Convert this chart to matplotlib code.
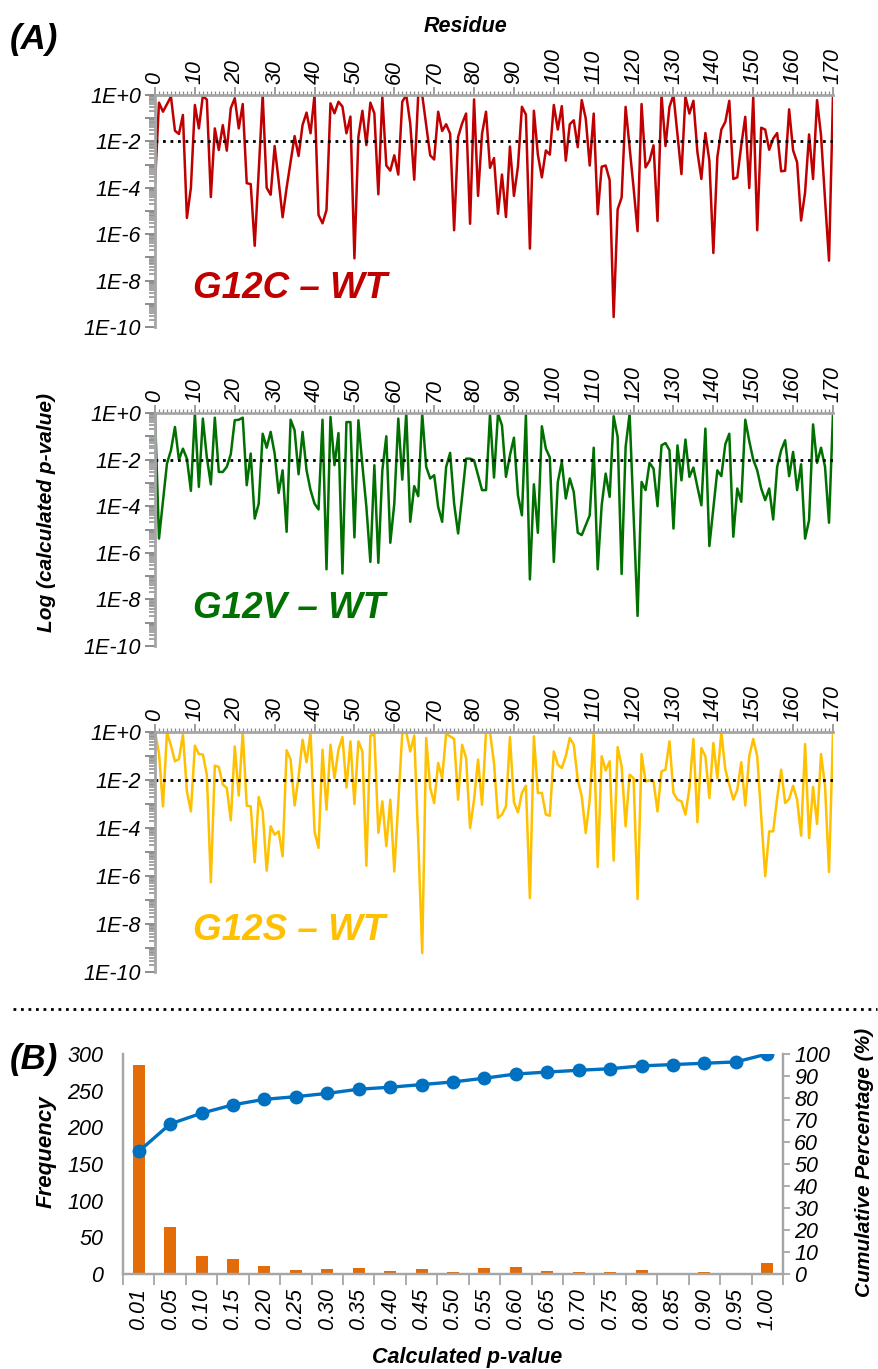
import numpy as np
import matplotlib.pyplot as plt
from matplotlib.ticker import FixedLocator, LogLocator, MultipleLocator, NullFormatter, FuncFormatter
from matplotlib.lines import Line2D

plt.rcParams['font.family'] = ['Liberation Sans', 'DejaVu Sans']
plt.rcParams['font.style'] = 'italic'

# ---- data: log10(p-value) per residue 0..170
residue = np.arange(0, 171)

g12c_log = [
    -3.8, -0.33, -0.72, -0.4, -0.07, -1.54, -1.68, -0.86, -5.3, -4.0,
    -0.43, -1.44, -0.04, -0.2, -4.4, -1.44, -2.37, -1.3, -2.4, -0.57,
    -0.14, -1.44, -0.39, -3.8, -3.84, -6.5, -3.3, 0.0, -4.0, -4.3,
    -2.2, -3.7, -5.27, -4.0, -2.9, -1.77, -2.63, -1.29, -0.76, -1.65,
    0.0, -5.17, -5.53, -4.96, -0.36, -0.79, -0.29, -0.5, -1.65, -0.93,
    -7.04, -1.8, -0.68, -2.16, -0.33, -0.79, -4.28, -0.07, -3.04, -3.26,
    -2.6, -3.43, -0.29, 0.0, -1.23, -3.65, 0.0, 0.0, -1.3, -2.6,
    -2.78, -0.72, -1.55, -1.26, -1.67, -5.83, -1.81, -1.23, -0.8, -5.55,
    -0.19, -4.35, -1.67, -0.72, -3.14, -2.72, -5.12, -3.43, -5.26, -2.22,
    -4.35, -3.09, -0.51, -0.84, -6.62, -0.68, -2.57, -3.55, -2.39, -2.57,
    -0.43, -1.49, -0.48, -2.83, -1.26, -1.09, -2.25, -0.22, -1.01, -3.04,
    -0.8, -5.14, -3.09, -3.04, -3.67, -9.57, -4.93, -4.42, -0.51, -2.25,
    -4.0, -5.87, -0.39, -3.12, -2.83, -2.17, -5.43, 0.0, -2.2, -0.51,
    0.0, -1.7, -3.41, -0.07, -0.8, -0.25, -2.46, -3.62, -1.64, -2.83,
    -6.81, -2.68, -1.49, -1.16, -0.25, -3.62, -3.55, -2.17, -0.94, -4.01,
    -0.1, -5.83, -1.41, -1.49, -2.36, -1.88, -1.64, -3.29, -3.26, -0.62,
    -2.39, -2.9, -5.41, -4.2, -1.7, -3.62, -0.22, -1.74, -4.5, -7.14,
    0.0,
]

g12v_log = [
    -0.03, -5.39, -3.8, -2.17, -1.6, -0.6, -2.0, -1.53, -1.96, -3.34,
    -0.03, -3.17, -0.24, -1.91, -3.06, -0.2, -2.53, -2.53, -2.31, -1.77,
    -0.31, -0.29, -0.2, -3.1, -1.74, -4.53, -3.89, -0.89, -1.49, -0.81,
    -1.74, -3.43, -2.46, -5.1, -0.29, -0.74, -2.63, -0.81, -2.46, -3.31,
    -3.89, -4.14, -0.29, -6.71, -0.17, -2.24, -0.86, -6.89, -0.39, -0.39,
    -5.34, -0.31, -2.24, -4.03, -6.39, -2.24, -6.43, -2.46, -1.0, -5.57,
    -3.89, -0.24, -2.86, 0.0, -4.67, -3.14, -3.57, -0.03, -2.31, -2.81,
    -2.67, -4.03, -4.67, -2.31, -1.71, -3.89, -5.17, -3.6, -1.96, -1.96,
    -2.03, -2.67, -3.31, -3.31, -0.06, -2.77, -0.03, -0.53, -2.74, -1.81,
    -1.06, -3.53, -4.39, -0.1, -7.14, -3.06, -5.14, -0.57, -1.53, -1.91,
    -6.39, -2.96, -2.1, -3.67, -2.81, -3.39, -5.14, -5.24, -4.81, -4.39,
    -1.49, -6.71, -3.96, -2.6, -3.6, -0.14, -1.03, -6.91, -1.46, -0.03,
    -4.4, -8.71, -2.96, -3.31, -2.14, -2.39, -4.0, -1.39, -1.29, -1.6,
    -4.96, -1.39, -2.89, -1.14, -2.74, -2.34, -3.17, -3.96, -0.67, -5.71,
    -4.1, -2.46, -2.71, -1.34, -0.89, -5.31, -3.24, -3.81, -0.29, -1.2,
    -2.0, -2.46, -3.24, -3.74, -3.24, -4.57, -2.31, -1.6, -1.17, -2.71,
    -1.67, -3.31, -2.2, -5.39, -4.6, -0.49, -2.14, -1.49, -2.31, -4.71,
    -0.03,
]

g12s_log = [
    0.0, -0.88, -3.1, -0.01, -0.57, -1.22, -1.13, -0.11, -2.47, -3.31,
    -0.57, -0.92, -0.94, -1.78, -6.26, -1.4, -1.46, -2.19, -2.33, -3.68,
    -0.6, -2.65, -0.01, -3.07, -3.1, -5.43, -2.71, -3.31, -5.78, -3.93,
    -4.28, -4.14, -5.18, -0.76, -1.15, -3.06, -1.85, -0.32, -1.26, -0.01,
    -4.14, -4.83, -0.74, -3.24, -0.53, -1.92, -0.74, -0.21, -2.31, -0.39,
    -3.0, -0.39, -0.81, -5.57, -0.15, -0.11, -4.2, -2.89, -4.76, -2.82,
    -5.81, -2.9, -0.07, 0.0, -0.81, -0.15, -4.5, -9.21, -0.25, -2.33,
    -2.96, -1.29, -1.92, -0.07, -0.18, -0.29, -2.82, -0.53, -1.08, -4.0,
    -2.82, -1.15, -3.03, 0.0, 0.0, -1.29, -3.58, -3.44, -3.1, -0.21,
    -2.93, -3.35, -2.54, -2.24, -6.92, -0.18, -2.54, -2.54, -3.44, -3.49,
    -0.81, -1.36, -1.5, -1.01, -0.25, -0.53, -1.99, -2.68, -4.21, -2.82,
    -0.01, -5.62, -1.01, -1.6, -1.22, -5.36, -0.63, -1.43, -3.93, -1.78,
    -1.92, -6.96, -0.92, -2.06, -2.01, -2.06, -3.31, -1.64, -1.57, -0.39,
    -2.54, -2.82, -2.89, -3.44, -2.33, -0.29, -3.76, -0.67, -1.01, -2.75,
    -0.46, -1.92, -0.01, -1.57, -2.2, -2.82, -2.4, -1.26, -3.06, -1.01,
    -0.29, -1.01, -3.51, -6.01, -4.14, -4.14, -2.75, -1.57, -2.96, -2.79,
    -2.24, -2.82, -4.32, -0.5, -4.42, -2.29, -3.83, -0.92, -2.26, -5.83,
    -0.01,
]

# ---- data: panel B histogram
pval_bins = ['0.01', '0.05', '0.10', '0.15', '0.20', '0.25', '0.30', '0.35', '0.40',
             '0.45', '0.50', '0.55', '0.60', '0.65', '0.70', '0.75', '0.80', '0.85',
             '0.90', '0.95', '1.00']
frequency = [285, 64, 24, 20, 11, 5, 7, 8, 4, 7, 3, 8, 10, 4, 3, 3, 5, 2, 3, 1, 15]
cumulative_pct = [55.7, 68.2, 73.1, 76.9, 79.4, 80.6, 82.1, 84.0, 84.9, 86.1, 87.3,
                  89.0, 90.9, 91.8, 92.6, 93.3, 94.6, 95.2, 95.8, 96.4, 100.0]

W, H = 879, 1369
fig = plt.figure(figsize=(W / 100, H / 100), dpi=100)

GRAY = '#a6a6a6'
TICK_GRAY = '#8c8c8c'


def px_rect(left, top, right, bottom):
    return [left / W, 1 - bottom / H, (right - left) / W, (bottom - top) / H]


def exp_label(v, pos):
    k = int(round(np.log10(v)))
    if k % 2:
        return ''
    return '1E+0' if k == 0 else '1E%d' % k


def residue_panel(rect, logp, color, name, label_y):
    ax = fig.add_axes(rect)
    ax.plot(residue, 10.0 ** np.array(logp), color=color, lw=1.8)
    ax.axhline(1e-2, color='black', lw=2.0, ls=(0, (1, 1.7)))
    ax.set_yscale('log')
    ax.set_ylim(1e-10, 1)
    ax.set_xlim(0, 170)

    ax.yaxis.set_major_locator(FixedLocator([10.0 ** -k for k in range(11)]))
    ax.yaxis.set_major_formatter(FuncFormatter(exp_label))
    ax.yaxis.set_minor_locator(LogLocator(base=10, subs=np.arange(2, 10), numticks=30))
    ax.yaxis.set_minor_formatter(NullFormatter())
    ax.tick_params(axis='y', which='major', length=7, width=1.4, color=TICK_GRAY,
                   labelsize=15.5, pad=3)
    ax.tick_params(axis='y', which='minor', length=4.5, width=1.1, color=TICK_GRAY)

    ax.xaxis.tick_top()
    ax.xaxis.set_major_locator(MultipleLocator(10))
    ax.xaxis.set_minor_locator(MultipleLocator(1))
    ax.tick_params(axis='x', which='major', length=6, width=1.2, color=TICK_GRAY,
                   labelsize=15.5, pad=2, labelrotation=90)
    ax.tick_params(axis='x', which='minor', length=3, width=0.9, color=TICK_GRAY)

    for s in ['right', 'bottom']:
        ax.spines[s].set_visible(False)
    for s in ['left', 'top']:
        ax.spines[s].set_color(GRAY)
        ax.spines[s].set_linewidth(2)

    ax.text(9.5, 10.0 ** label_y, name, color=color, fontsize=26.5, fontweight='bold',
            ha='left', va='baseline')
    return ax


ax1 = residue_panel(px_rect(155, 95, 833, 327), g12c_log, '#c00000', 'G12C \u2013 WT', -8.75)
ax2 = residue_panel(px_rect(155, 413, 833, 646), g12v_log, '#007000', 'G12V \u2013 WT', -8.8)
ax3 = residue_panel(px_rect(155, 732, 833, 972), g12s_log, '#ffc000', 'G12S \u2013 WT', -8.67)

fig.text(10 / W, 1 - 40 / H, '(A)', fontsize=25, fontweight='bold', va='center', ha='left')
fig.text(466 / W, 1 - 27 / H, 'Residue', fontsize=15.5, fontweight='bold', va='center', ha='center')
fig.text(47 / W, 1 - 512 / H, 'Log (calculated p-value)', fontsize=15, fontweight='bold',
         rotation=90, va='center', ha='center')

# dotted separator between panels
fig.add_artist(Line2D([13 / W, 877 / W], [1 - 1009 / H, 1 - 1009 / H], color='black',
                      lw=2, ls=(0, (1, 1.7))))

# ---- panel B
axb = fig.add_axes(px_rect(123, 1054, 783, 1274))
xpos = np.arange(len(pval_bins))
axb.bar(xpos, frequency, width=0.38, color='#e36c09', zorder=2)
axb.set_xlim(-0.5, len(pval_bins) - 0.5)
axb.set_ylim(0, 300)
axb.yaxis.set_major_locator(MultipleLocator(50))
axb.tick_params(axis='y', length=0, labelsize=15.5, pad=14)
axb.set_xticks(xpos)
axb.set_xticklabels(pval_bins)
axb.set_xticks(np.arange(-0.5, len(pval_bins)), minor=True)
axb.tick_params(axis='x', which='major', length=0, labelsize=15.5, labelrotation=90, pad=10)
axb.tick_params(axis='x', which='minor', length=8, width=1.3, color=GRAY)
axb.spines['top'].set_visible(False)
for s in ['left', 'bottom', 'right']:
    axb.spines[s].set_color(GRAY)
    axb.spines[s].set_linewidth(1.6)

axr = axb.twinx()
axr.plot(xpos, cumulative_pct, color='#0070c0', lw=2.4, marker='o', markersize=9,
         zorder=3)
axr.set_ylim(0, 100)
axr.yaxis.set_major_locator(MultipleLocator(10))
axr.tick_params(axis='y', length=5, width=1.3, color=GRAY, labelsize=15.5, pad=3)
axr.spines['top'].set_visible(False)
for s in ['left', 'bottom', 'right']:
    axr.spines[s].set_color(GRAY)
    axr.spines[s].set_linewidth(1.6)

fig.text(10 / W, 1 - 1059 / H, '(B)', fontsize=25, fontweight='bold', va='center', ha='left')
fig.text(46 / W, 1 - 1152 / H, 'Frequency', fontsize=16, fontweight='bold',
         rotation=90, va='center', ha='center')
fig.text(865 / W, 1 - 1162 / H, 'Cumulative Percentage (%)', fontsize=15, fontweight='bold',
         rotation=90, va='center', ha='center')
fig.text(467 / W, 1 - 1357 / H, 'Calculated p-value', fontsize=15.5, fontweight='bold',
         va='center', ha='center')

fig.savefig('out.png', dpi=100)
